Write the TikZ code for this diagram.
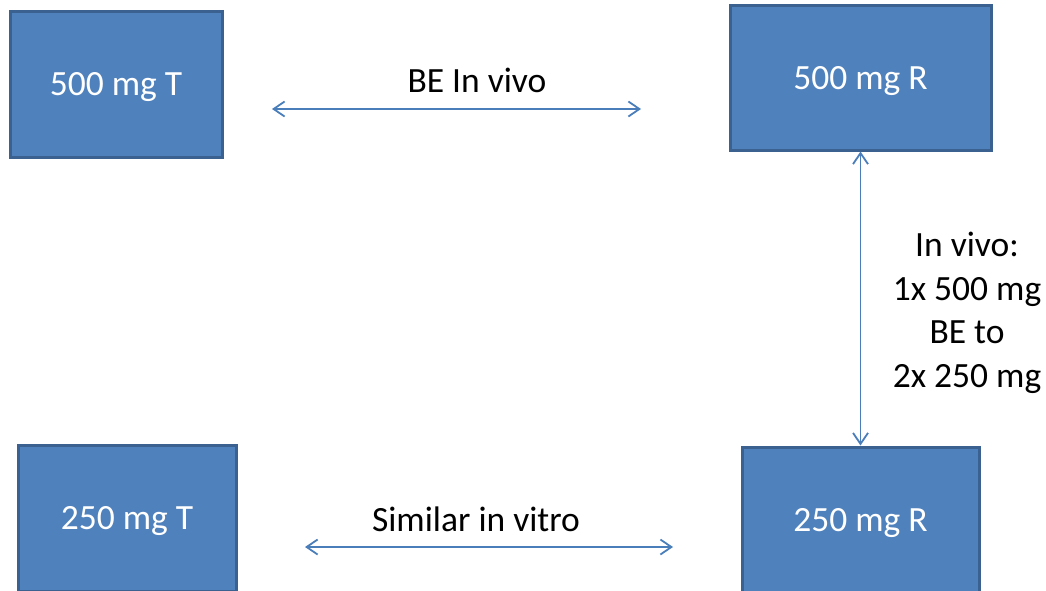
\documentclass[tikz,border=0pt]{standalone}
\usepackage{fontspec}
\setmainfont{Carlito}
\usetikzlibrary{arrows.meta}
\definecolor{boxfill}{HTML}{4F81BD}
\definecolor{boxline}{HTML}{3A6190}
\definecolor{arrowc}{HTML}{4A7EBB}
\tikzset{
  dosebox/.style={draw=boxline, fill=boxfill, line width=3pt, text=white,
    font=\fontsize{35.5}{43.5}\selectfont, text height=23pt, text depth=0pt,
    inner sep=0pt},
  lbl/.style={font=\fontsize{35.5}{43.5}\selectfont, text=black, align=center, inner sep=0pt},
  dbl/.style={draw=arrowc, line width=1.8pt,
    {Straight Barb[length=11pt,width=15pt,line width=1.8pt]}-{Straight Barb[length=11pt,width=15pt,line width=1.8pt]}}
}
\begin{document}
\begin{tikzpicture}[x=1pt,y=-1pt]
\useasboundingbox (0,0) rectangle (1046,590);
\clip (0,0) rectangle (1046,590);
\node[dosebox, minimum width=212pt, minimum height=146pt] (t500) at (116,84) {500 mg T};
\node[dosebox, minimum width=261pt, minimum height=145pt] (r500) at (860.5,77.5) {500 mg R};
\node[dosebox, minimum width=218pt, minimum height=146pt] (t250) at (127,518) {250 mg T};
\node[dosebox, minimum width=237pt, minimum height=146pt] (r250) at (860.5,520) {250 mg R};
\coordinate (a1) at (272,109);
\coordinate (a2) at (641,109);
\coordinate (b1) at (305,547);
\coordinate (b2) at (673,547);
\draw[dbl] (a1) -- (a2);
\draw[dbl] (b1) -- (b2);
\draw[dbl] (r500.south) -- (r250.north);
\node[lbl] (lbe) at (477,80) {BE In vivo};
\node[lbl] (lsim) at (476,519) {Similar in vitro};
\node[lbl] (lvivo) at (967,313) {In vivo:\\1x 500 mg\\BE to\\2x 250 mg};
\end{tikzpicture}
\end{document}
